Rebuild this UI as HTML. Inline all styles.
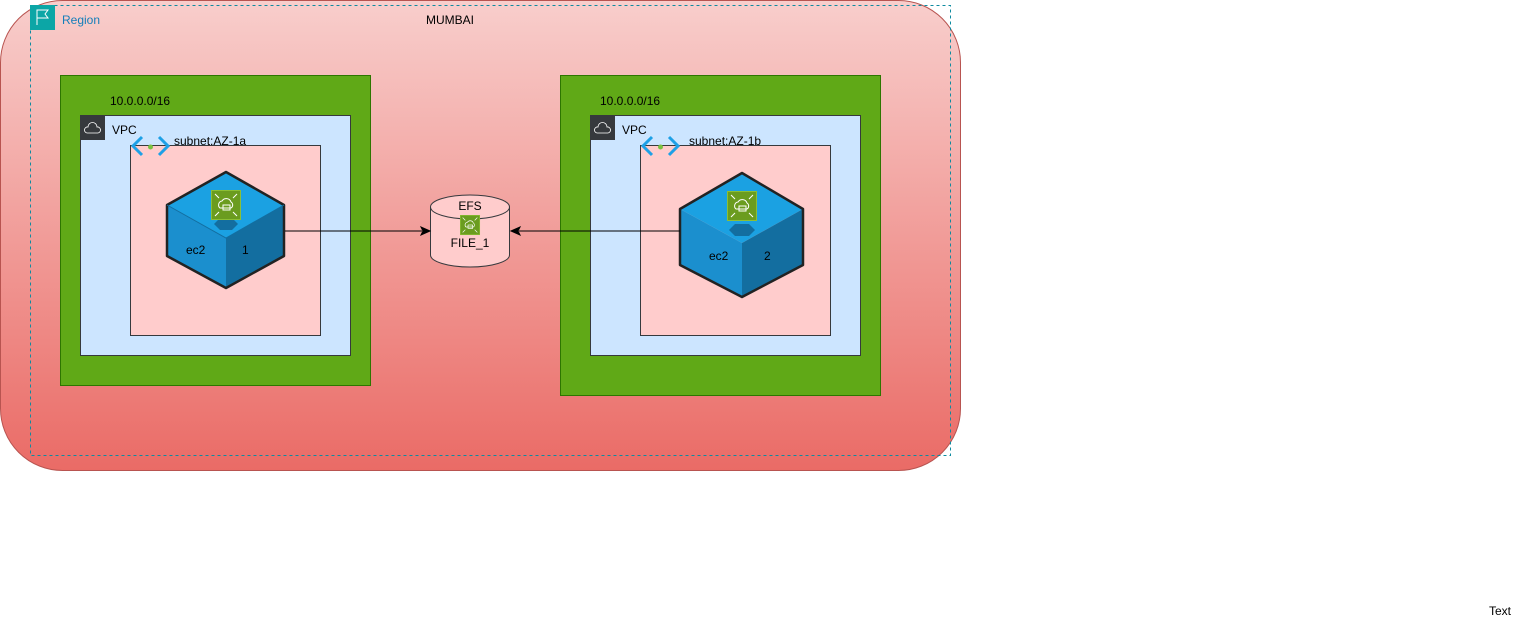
<!DOCTYPE html>
<html><head><meta charset="utf-8"><style>
body{margin:0;background:#fff;width:1531px;height:626px;overflow:hidden}
svg text{font-family:"Liberation Sans",sans-serif;font-size:12px;fill:#000}
</style></head><body>
<svg width="1531" height="626" viewBox="0 0 1531 626" xmlns="http://www.w3.org/2000/svg">
<defs>
<linearGradient id="g" x1="0" y1="0" x2="0" y2="1">
<stop offset="0" stop-color="#f8cecc"/><stop offset="1" stop-color="#ea6b66"/>
</linearGradient>
<g id="ico">
<rect x="0" y="0" width="30" height="30" fill="#6b9c1f"/>
<rect x="0.5" y="0.5" width="29" height="29" fill="none" stroke="#8cbf35"/>
<path d="M9 18 a4 4 0 0 1 2-7 a5 5 0 0 1 9 1 a3.5 3.5 0 0 1 0 6 Z" fill="none" stroke="#fff" stroke-width="1"/>
<rect x="12" y="15" width="7" height="5" fill="none" stroke="#fff" stroke-width="1"/>
<path d="M4 4 l4 4 M26 4 l-4 4 M4 26 l4 -4 M26 26 l-4 -4" stroke="#fff" stroke-width="1"/>
</g>
</defs>
<rect x="0.5" y="0.5" width="960" height="470" rx="62" fill="url(#g)" stroke="#b85450"/>
<rect x="30.5" y="5.5" width="920" height="450" fill="none" stroke="#0e8ba0" stroke-dasharray="3,3"/>
<rect x="30" y="5" width="25" height="25" fill="#0ca6a6"/>
<path d="M37 25 V10 H48 L45 14 L48 18 H37" fill="none" stroke="#fff" stroke-width="1"/>
<text x="62" y="24" style="fill:#147eba">Region</text>
<text x="450" y="24" text-anchor="middle">MUMBAI</text>

<rect x="60.5" y="75.5" width="310" height="310" fill="#60a917" stroke="#2d7600"/>
<text x="110" y="105">10.0.0.0/16</text>
<rect x="80.5" y="115.5" width="270" height="240" fill="#cce5ff" stroke="#36393d"/>
<rect x="80" y="115" width="25" height="25" fill="#36393d"/>
<path d="M87 133 a3 3 0 0 1 1-6 a4.5 4.5 0 0 1 9 0 a3 3 0 0 1 1 6 Z" fill="none" stroke="#fff" stroke-width="0.8"/>
<text x="112" y="134">VPC</text>
<rect x="130.5" y="145.5" width="190" height="190" fill="#ffcccc" stroke="#36393d"/>
<path d="M142 137 L133 146 L142 155 M159 137 L168 146 L159 155" fill="none" stroke="#1ea0e6" stroke-width="3"/>
<circle cx="150.5" cy="147" r="2.5" fill="#7ac142"/>
<text x="174" y="145">subnet:AZ-1a</text>

<rect x="560.5" y="75.5" width="320" height="320" fill="#60a917" stroke="#2d7600"/>
<text x="600" y="105">10.0.0.0/16</text>
<rect x="590.5" y="115.5" width="270" height="240" fill="#cce5ff" stroke="#36393d"/>
<rect x="590" y="115" width="25" height="25" fill="#36393d"/>
<path d="M597 133 a3 3 0 0 1 1-6 a4.5 4.5 0 0 1 9 0 a3 3 0 0 1 1 6 Z" fill="none" stroke="#fff" stroke-width="0.8"/>
<text x="622" y="134">VPC</text>
<rect x="640.5" y="145.5" width="190" height="190" fill="#ffcccc" stroke="#36393d"/>
<path d="M652 137 L643 146 L652 155 M669 137 L678 146 L669 155" fill="none" stroke="#1ea0e6" stroke-width="3"/>
<circle cx="660.5" cy="147" r="2.5" fill="#7ac142"/>
<text x="689" y="145">subnet:AZ-1b</text>

<!-- cube 1 -->
<polygon points="226,172 284,205 226,238" fill="#1ba1e2"/>
<polygon points="226,172 167,205 226,238" fill="#1ba1e2"/>
<polygon points="167,205 226,238 226,288 167,256" fill="#1b8fce"/>
<polygon points="284,205 226,238 226,288 284,256" fill="#136ea0"/>
<polygon points="226,172 284,205 284,256 226,288 167,256 167,205" fill="none" stroke="#222" stroke-width="2.5" stroke-linejoin="round"/>
<path d="M167 205 L226 238 L284 205" fill="none" stroke="#136ea0" stroke-width="1"/>
<path d="M214 224 L220 218 H232 L238 224 L232 230 H220 Z" fill="#136ea0"/>
<use href="#ico" x="211" y="190"/>
<text x="186" y="254">ec2</text><text x="242" y="254">1</text>

<!-- cube 2 -->
<polygon points="742,173 803,209 742,243 680,209" fill="#1ba1e2"/>
<polygon points="680,209 742,243 742,297 680,265" fill="#1b8fce"/>
<polygon points="803,209 742,243 742,297 803,265" fill="#136ea0"/>
<polygon points="742,173 803,209 803,265 742,297 680,265 680,209" fill="none" stroke="#222" stroke-width="2.5" stroke-linejoin="round"/>
<path d="M729 230 L735 224 H749 L755 230 L749 236 H735 Z" fill="#136ea0"/>
<use href="#ico" x="727" y="191"/>
<text x="709" y="260">ec2</text><text x="764" y="260">2</text>

<!-- EFS -->
<path d="M430.5 207 V255 A39.5 12 0 0 0 509.5 255 V207" fill="#ffcccc" stroke="#36393d"/>
<ellipse cx="470" cy="207" rx="39.5" ry="12" fill="#ffcccc" stroke="#36393d"/>
<text x="470" y="210" text-anchor="middle">EFS</text>
<g transform="translate(460,215) scale(0.667)"><use href="#ico"/></g>
<text x="470" y="247" text-anchor="middle">FILE_1</text>

<line x1="285" y1="231" x2="422" y2="231" stroke="#000"/>
<polygon points="430,231 421,227 423,231 421,235" fill="#000" stroke="#000"/>
<line x1="680" y1="231" x2="519" y2="231" stroke="#000"/>
<polygon points="511,231 520,227 518,231 520,235" fill="#000" stroke="#000"/>

<text x="1489" y="615">Text</text>
</svg>
</body></html>
